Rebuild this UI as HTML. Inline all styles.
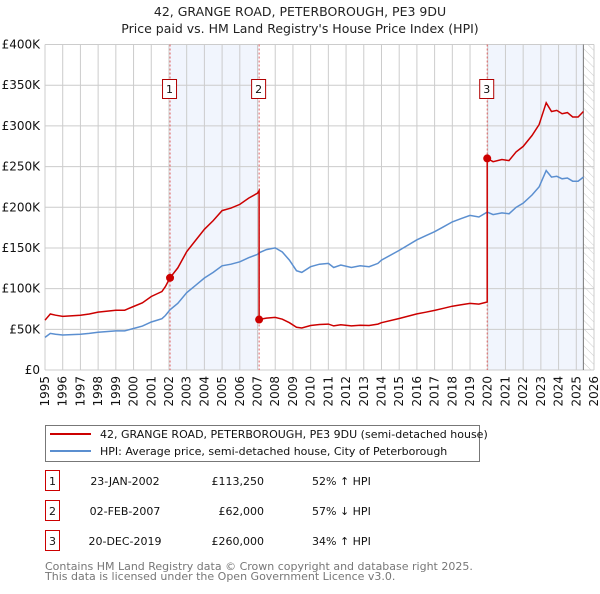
<!DOCTYPE html>
<html><head><meta charset="utf-8"><style>
body{margin:0;background:#fff;font-family:"DejaVu Sans","Liberation Sans",sans-serif;}
svg text{font-family:"DejaVu Sans","Liberation Sans",sans-serif;}
</style></head><body>
<svg id="c" width="600" height="590" viewBox="0 0 600 590" xmlns="http://www.w3.org/2000/svg">
<defs><pattern id="hatch" width="6" height="6" patternUnits="userSpaceOnUse" patternTransform="rotate(-45)"><line x1="0" y1="0" x2="0" y2="6" stroke="#ccc" stroke-width="1"/></pattern></defs>
<text x="300" y="16" text-anchor="middle" font-size="12.5" fill="#222">42, GRANGE ROAD, PETERBOROUGH, PE3 9DU</text>
<text x="300" y="33" text-anchor="middle" font-size="12.5" fill="#222">Price paid vs. HM Land Registry's House Price Index (HPI)</text>
<g id="plot"></g>
<g>
<rect x="45.5" y="425.5" width="434" height="36" fill="#fff" stroke="#777"/>
<line x1="50" y1="434" x2="91" y2="434" stroke="#cc0000" stroke-width="2"/>
<text x="100" y="438" font-size="11" fill="#111">42, GRANGE ROAD, PETERBOROUGH, PE3 9DU (semi-detached house)</text>
<line x1="50" y1="451" x2="91" y2="451" stroke="#5b8fd0" stroke-width="2"/>
<text x="100" y="455" font-size="11" fill="#111">HPI: Average price, semi-detached house, City of Peterborough</text>
</g>
<g id="table" font-size="11" fill="#111"></g>
<text x="45" y="570" font-size="11" fill="#777">Contains HM Land Registry data © Crown copyright and database right 2025.</text>
<text x="45" y="580" font-size="11" fill="#777">This data is licensed under the Open Government Licence v3.0.</text>
</svg>
<script>
const hpiYears=[1995.0,1995.3,1995.6,1996,1997,1997.5,1998,1999,1999.5,2000,2000.5,2001,2001.3,2001.6,2001.8,2002.06,2002.5,2003,2003.5,2004,2004.5,2005,2005.5,2006,2006.5,2007,2007.09,2007.5,2008,2008.4,2008.8,2009.2,2009.5,2010,2010.5,2011,2011.3,2011.7,2012.3,2012.8,2013.3,2013.8,2014,2015,2016,2016.5,2017,2017.5,2018,2018.5,2019,2019.5,2019.97,2020.3,2020.8,2021.2,2021.6,2022,2022.5,2022.9,2023.2,2023.3,2023.6,2023.9,2024.2,2024.5,2024.8,2025.1,2025.4];
const hpiValues=[40,45,44,43,44,45,46.5,48,48,51,54,59,61,63,67,74,82,95,104,113,120,128,130,133,138,142,144,148,150,145,135,122,120,127,130,131,126,129,126,128,127,131,135,147,160,165,170,176,182,186,190,188,194,191,193,192,200,205,215,225,240,245,237,238,235,236,232,232,237];
const saleYears=[2002.06,2007.09,2019.97];
const salePrices=[113250,62000,260000];
const saleLabels=["1","2","3"];
const saleDates=["23-JAN-2002","02-FEB-2007","20-DEC-2019"];
const salePriceText=["£113,250","£62,000","£260,000"];
const saleHpiText=["52% ↑ HPI","57% ↓ HPI","34% ↑ HPI"];
const yTicks=[0,50000,100000,150000,200000,250000,300000,350000,400000];
const yTickLabels=["£0","£50K","£100K","£150K","£200K","£250K","£300K","£350K","£400K"];
const xTicks=[1995,1996,1997,1998,1999,2000,2001,2002,2003,2004,2005,2006,2007,2008,2009,2010,2011,2012,2013,2014,2015,2016,2017,2018,2019,2020,2021,2022,2023,2024,2025,2026];

const X0=45,X1=594,Y0=370,Y1=44.5;
const xs=y=>X0+(y-1995)/(2026-1995)*(X1-X0);
const ys=v=>Y0-v/400000*(Y0-Y1);
const NS="http://www.w3.org/2000/svg";
function mk(tag,attrs,parent){const e=document.createElementNS(NS,tag);for(const k in attrs)e.setAttribute(k,attrs[k]);parent.appendChild(e);return e;}
const plot=document.getElementById('plot');
function hpiAt(t){for(let i=1;i<hpiYears.length;i++){if(t<=hpiYears[i]){const a=hpiYears[i-1],b=hpiYears[i];return hpiValues[i-1]+(hpiValues[i]-hpiValues[i-1])*(t-a)/(b-a);}}return hpiValues[hpiValues.length-1];}
const endYear=hpiYears[hpiYears.length-1];
let r=mk('rect',{x:xs(saleYears[0]),y:Y1,width:xs(saleYears[1])-xs(saleYears[0]),height:Y0-Y1,fill:'#eef3fc',opacity:0.8},plot);


r=mk('rect',{x:xs(saleYears[2]),y:Y1,width:xs(endYear)-xs(saleYears[2]),height:Y0-Y1,fill:'#eef3fc',opacity:0.8},plot);


r=mk('rect',{x:xs(endYear),y:Y1,width:X1-xs(endYear),height:Y0-Y1,fill:'url(#hatch)'},plot);


xTicks.forEach(t=>{const l=mk('line',{x1:xs(t),x2:xs(t),y1:Y1,y2:Y0,stroke:'#cccccc','stroke-width':1},plot);


const tx=mk('text',{x:0,y:0,'font-size':12,fill:'#111','text-anchor':'end',transform:`translate(${xs(t)+4},${Y0+6}) rotate(-90)`},plot);tx.textContent=t;

});
yTicks.forEach((t,i)=>{const l=mk('line',{x1:X0,x2:X1,y1:ys(t),y2:ys(t),stroke:'#cccccc','stroke-width':1},plot);


const tx=mk('text',{x:X0-5,y:ys(t)+4,'font-size':12,fill:'#111','text-anchor':'end'},plot);tx.textContent=yTickLabels[i];

});
r=mk('line',{x1:xs(endYear),x2:xs(endYear),y1:Y1,y2:Y0,stroke:'#777','stroke-width':1},plot);


saleYears.forEach(s=>{const l=mk('line',{x1:xs(s),x2:xs(s),y1:Y1,y2:Y0,stroke:'#e06060','stroke-width':1,'stroke-dasharray':'2,2'},plot);

});
const hp=hpiYears.map((y,i)=>`${xs(y).toFixed(1)},${ys(hpiValues[i]*1000).toFixed(1)}`).join(' ');
r=mk('polyline',{points:hp,fill:'none',stroke:'#5b8fd0','stroke-width':1.5},plot);


let pts=[];
for(let k=0;k<saleYears.length;k++){
 const ratio=salePrices[k]/(hpiAt(saleYears[k])*1000);
 const a=k===0?1995:saleYears[k], b=k+1<saleYears.length?saleYears[k+1]:endYear;
 const ts=[a].concat(hpiYears.filter(y=>y>a&&y<b)).concat([b]);
 ts.forEach(t=>pts.push(`${xs(t).toFixed(1)},${ys(hpiAt(t)*1000*ratio).toFixed(1)}`));
}
r=mk('polyline',{points:pts.join(' '),fill:'none',stroke:'#cc0000','stroke-width':1.5},plot);


saleYears.forEach((s,i)=>{const c=mk('circle',{cx:xs(s),cy:ys(salePrices[i]),r:4,fill:'#cc0000'},plot);


const g=mk('g',{},plot);


mk('rect',{x:xs(s)-7.5,y:79.5,width:14,height:19,fill:'#fff',stroke:'#b00000'},g);
const t=mk('text',{x:xs(s)-0.5,y:93,'font-size':11,'text-anchor':'middle',fill:'#111'},g);t.textContent=saleLabels[i];});
const tb=document.getElementById('table');
saleYears.forEach((s,i)=>{const y=483+30*i;const g=mk('g',{},tb);


mk('rect',{x:45.5,y:y-12.5,width:14,height:20,fill:'#fff',stroke:'#cc0000'},g);
let t=mk('text',{x:52.5,y:y+2,'text-anchor':'middle'},g);t.textContent=saleLabels[i];
t=mk('text',{x:125,y:y+2,'text-anchor':'middle'},g);t.textContent=saleDates[i];
t=mk('text',{x:264,y:y+2,'text-anchor':'end'},g);t.textContent=salePriceText[i];
t=mk('text',{x:312,y:y+2},g);t.textContent=saleHpiText[i];});
</script>
</body></html>
